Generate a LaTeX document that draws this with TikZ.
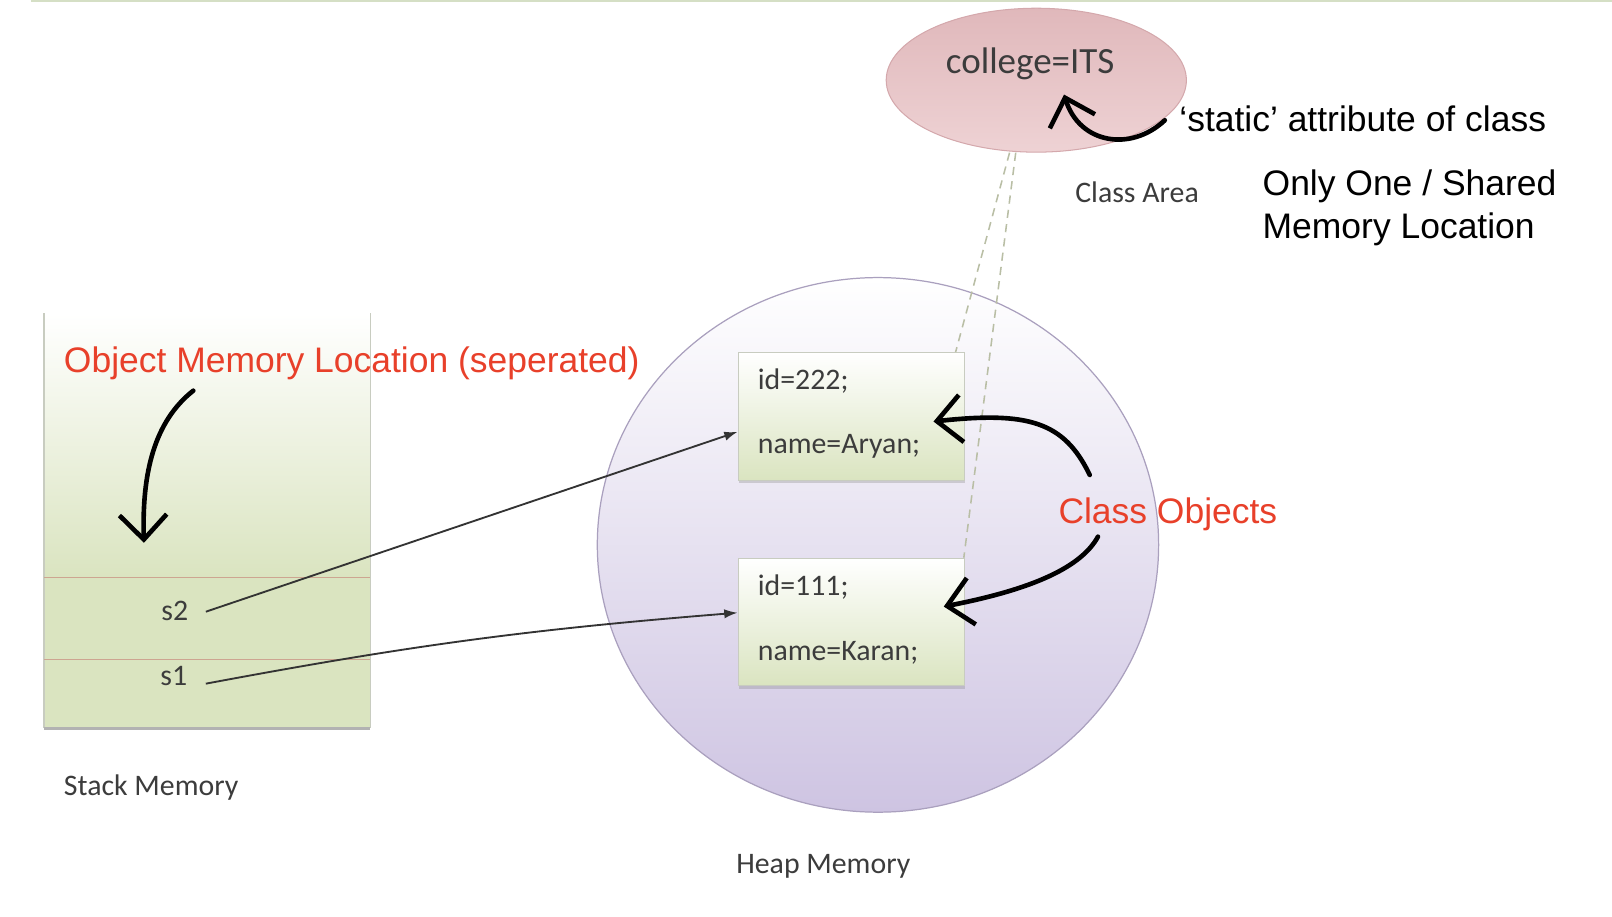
\documentclass[tikz,border=0pt]{standalone}
\usepackage{fontspec}
\setmainfont{Liberation Sans}
\newfontfamily\calibrifont{Carlito}
\usetikzlibrary{arrows.meta,shapes.geometric,shadows}

\definecolor{notered}{RGB}{232,64,42}
\definecolor{labelgray}{RGB}{60,60,60}
\definecolor{stackgreen}{RGB}{218,228,192}
\definecolor{stackedge}{RGB}{200,204,192}
\definecolor{slotline}{RGB}{205,165,145}
\definecolor{heapfill}{RGB}{206,196,226}
\definecolor{heapedge}{RGB}{170,160,190}
\definecolor{classtop}{RGB}{224,184,187}
\definecolor{classbottom}{RGB}{238,210,212}
\definecolor{classedge}{RGB}{212,168,172}
\definecolor{linkgreen}{RGB}{185,190,165}
\definecolor{topline}{RGB}{213,223,197}

\tikzset{
  note/.style={font=\fontsize{34.5}{42}\selectfont, inner sep=0pt},
  rednote/.style={note, text=notered},
  memlabel/.style={font=\calibrifont\fontsize{29}{34}\selectfont, text=labelgray, inner sep=0pt},
  objbox/.style={rectangle, minimum width=220pt, minimum height=124pt, inner sep=0pt,
    top color=white, bottom color=stackgreen, draw=stackedge, line width=1pt,
    drop shadow={shadow xshift=1pt, shadow yshift=-3pt, opacity=.3}},
  slot/.style={rectangle, minimum width=317pt, inner sep=0pt},
  hand/.style={line width=4.5pt, line cap=round, line join=round,
    -{Straight Barb[length=24pt,width=46pt]}},
  ptr/.style={->,>={Latex[length=13pt,width=9pt]}, line width=1.8pt, draw=black!80},
  staticlink/.style={dash pattern=on 8pt off 6pt, line width=1.5pt, draw=linkgreen},
}

\begin{document}
\begin{tikzpicture}[x=1pt,y=-1pt]
\useasboundingbox (0,0) rectangle (1568,891);
\draw[topline, line width=2pt] (30,1) -- (1568,1);

% class area
\node[ellipse, minimum width=292pt, minimum height=140pt, inner sep=0pt,
  top color=classtop, bottom color=classbottom, draw=classedge, line width=1pt] (classarea) at (1008,78) {};
\node[memlabel, font=\calibrifont\fontsize{36}{40}\selectfont] (college) at (1002,62) {college=ITS};
\node[memlabel] (classlbl) at (1106,187) {Class Area};

% heap
\node[ellipse, minimum width=546pt, minimum height=520pt, inner sep=0pt,
  top color=white, bottom color=heapfill, draw=heapedge, line width=1.2pt] (heap) at (854,530) {};
\node[memlabel, anchor=west] (heaplbl) at (716,843) {Heap Memory};

% stack
\node[slot, minimum height=257pt, top color=white, bottom color=stackgreen] (stacktop) at (201.5,433.5) {};
\node[slot, minimum height=80pt, fill=stackgreen] (slot2) at (201.5,602) {};
\node[slot, minimum height=66pt, fill=stackgreen] (slot1) at (201.5,675) {};
\draw[stackedge, line width=1.2pt] (stacktop.north west) -- (slot1.south west);
\draw[stackedge, line width=1.2pt] (stacktop.north east) -- (slot1.south east);
\draw[slotline, line width=1.2pt] (slot2.north west) -- (slot2.north east);
\draw[slotline, line width=1.2pt] (slot1.north west) -- (slot1.north east);
\draw[black!30, line width=3pt] (slot1.south west) -- (slot1.south east);
\node[memlabel] (s2) at (170,594) {s2};
\node[memlabel] (s1) at (169,658) {s1};
\node[memlabel, anchor=west] (stacklbl) at (62,766) {Stack Memory};

% objects
\node[objbox] (obj2) at (828,405) {};
\node[objbox] (obj1) at (828,605) {};
\node[memlabel, anchor=west] (id2) at (737,371) {id=222;};
\node[memlabel, anchor=west] (name2) at (737,434) {name=Aryan;};
\node[memlabel, anchor=west] (id1) at (737,571) {id=111;};
\node[memlabel, anchor=west] (name1) at (737,635) {name=Karan;};

\draw[staticlink] ([xshift=-26pt]classarea.south) -- ([xshift=-9pt]obj2.north east);
\draw[staticlink] ([xshift=-20pt]classarea.south) -- ([xshift=-1pt]obj1.north east);

\draw[ptr] ([xshift=17pt,yshift=-1pt]s2.east) -- ([yshift=-15pt]obj2.west);
\draw[ptr] ([xshift=18pt,yshift=-7pt]s1.east) to[bend left=3] ([yshift=9pt]obj1.west);

% notes
\node[rednote, anchor=west] (objmem) at (62,353) {Object Memory Location (seperated)};
\node[rednote] (classobj) at (1136,500) {Class Objects};
\node[note, anchor=west] (static) at (1147,116) {‘static’ attribute of class};
\node[note, anchor=west, align=left] (shared) at (1228,202) {Only One / Shared\\Memory Location};

\coordinate (memfrom) at (188,380);
\coordinate (memto) at (140,528);
\coordinate (objfromA) at (1060,462);
\coordinate (objtoA) at (908,410);
\coordinate (objfromB) at (1068,522);
\coordinate (objtoB) at (918,590);
\coordinate (staticfrom) at (1133,117);
\coordinate (staticto) at (1035,92);

\draw[hand] (memfrom) .. controls (150,410) and (138,460) .. (memto);
\draw[hand] (objfromA) .. controls (1035,410) and (1000,400) .. (objtoA);
\draw[hand] (objfromB) .. controls (1050,555) and (995,575) .. (objtoB);
\draw[hand] (staticfrom) .. controls (1100,148) and (1050,140) .. (staticto);

\end{tikzpicture}
\end{document}
